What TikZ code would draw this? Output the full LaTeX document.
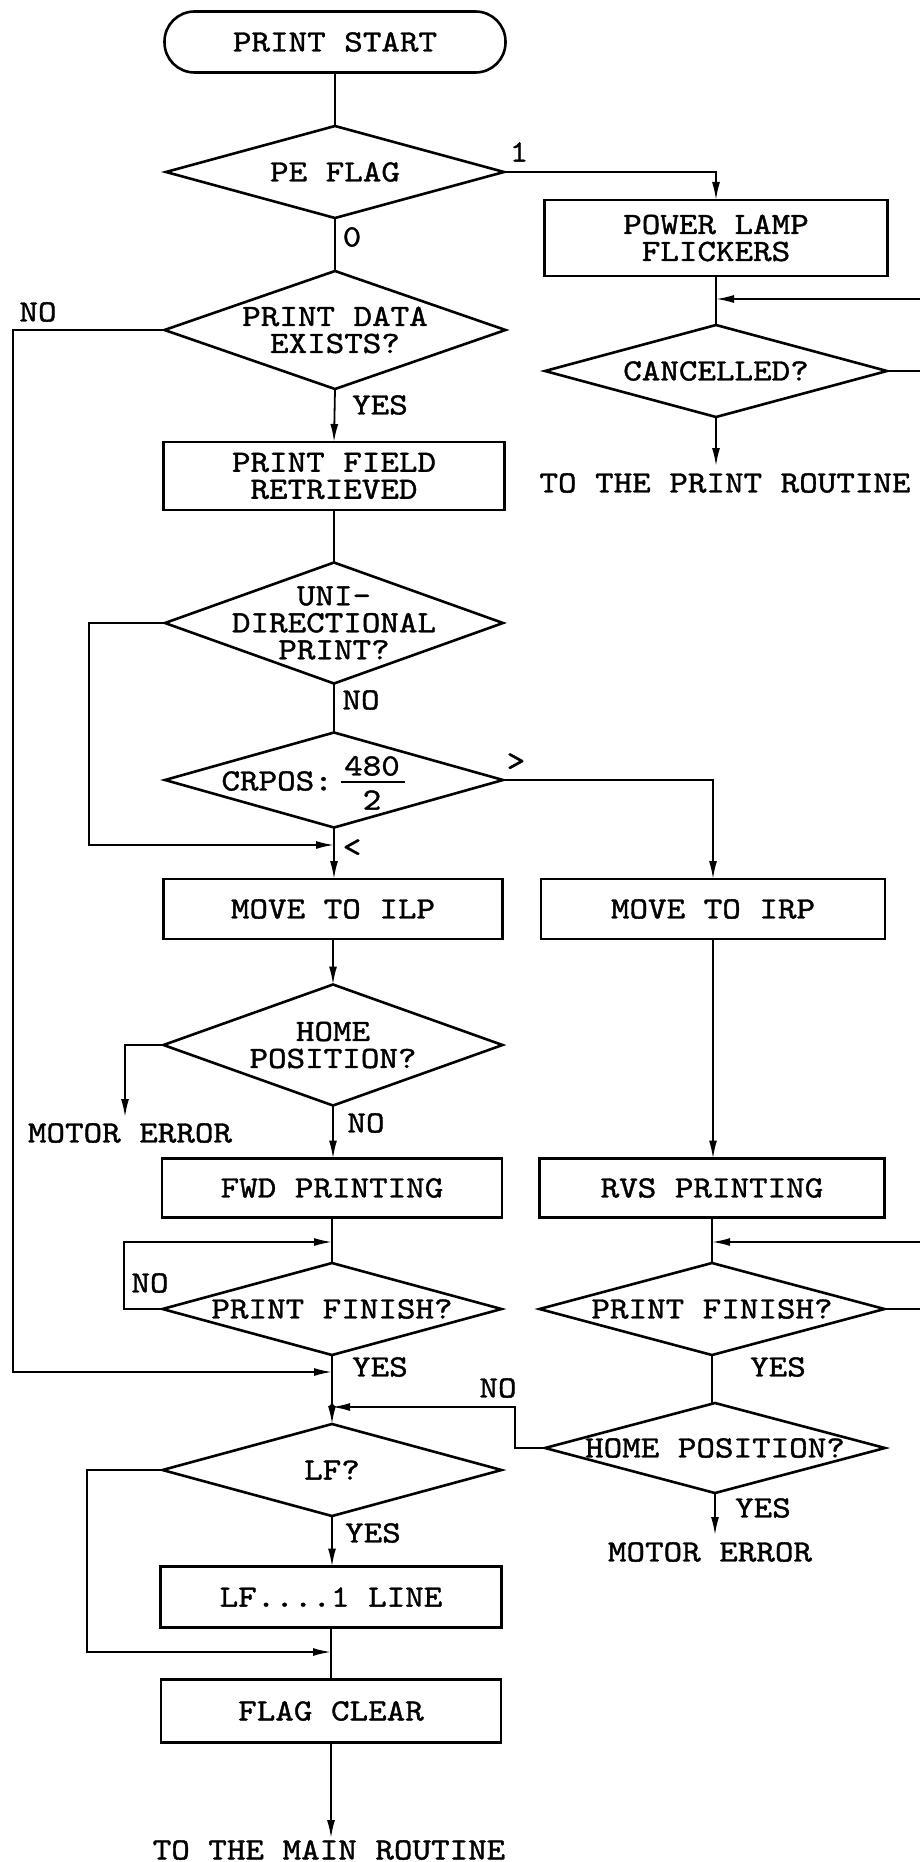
\documentclass[tikz,border=0pt]{standalone}
\usepackage{fontspec}
\setmonofont{lmmono10-regular.otf}[FakeStretch=1.14,FakeBold=1.2]
\usetikzlibrary{shapes.geometric,arrows.meta}
\begin{document}
\begin{tikzpicture}[x=1pt,y=-1pt,
  every node/.style={font=\ttfamily\fontsize{31}{27}\selectfont},
  box/.style={draw,line width=2.6pt,inner sep=0pt,outer sep=0pt},
  dia/.style={draw,diamond,line width=2.6pt,inner sep=0pt,outer sep=0pt},
  txt/.style={align=center,inner sep=0pt},
  lbl/.style={inner sep=0pt},
  ln/.style={line width=1.8pt},
  arr/.style={ln,-{Latex[length=18pt,width=8pt]}}]
\clip (0,0) rectangle (920,1862);
% ---------- nodes ----------
\node[box,rounded corners=30pt,minimum width=341pt,minimum height=61pt] (start) at (335,42) {};
\node[txt] (startT) at (start) {PRINT START};
\node[dia,minimum width=338pt,minimum height=92pt] (pe) at (335,172) {};
\node[txt] (peT) at (pe) {PE FLAG};
\node[box,minimum width=343pt,minimum height=76pt] (power) at (716,238) {};
\node[txt] (powerT) at (power) {POWER LAMP\\FLICKERS};
\node[dia,minimum width=342pt,minimum height=92pt] (cancel) at (716,371) {};
\node[txt] (cancelT) at (cancel) {CANCELLED?};
\node[dia,minimum width=341pt,minimum height=118pt] (data) at (335,330) {};
\node[txt] (dataT) at (data) {PRINT DATA\\EXISTS?};
\node[box,minimum width=341pt,minimum height=68pt] (field) at (334,476) {};
\node[txt] (fieldT) at (field) {PRINT FIELD\\RETRIEVED};
\node[dia,minimum width=338pt,minimum height=121pt] (uni) at (334,623) {};
\node[txt] (uniT) at (uni) {UNI-\\DIRECTIONAL\\PRINT?};
\node[dia,minimum width=338pt,minimum height=95pt] (crpos) at (334,780) {};
\node[txt,anchor=east] (crposT) at (333,781) {CRPOS:};
\node[lbl] (crN) at (372,766) {480};
\node[lbl] (crD) at (372,800) {2};
\draw[line width=2pt] (341,782) -- (405,782);
\node[box,minimum width=339pt,minimum height=60pt] (ilp) at (333,909) {};
\node[txt] (ilpT) at (ilp) {MOVE TO ILP};
\node[box,minimum width=344pt,minimum height=60pt] (irp) at (713,909) {};
\node[txt] (irpT) at (irp) {MOVE TO IRP};
\node[dia,minimum width=339pt,minimum height=121pt] (home1) at (333,1045) {};
\node[txt] (home1T) at (home1) {HOME\\POSITION?};
\node[box,minimum width=340pt,minimum height=59pt] (fwd) at (332,1188) {};
\node[txt] (fwdT) at (fwd) {FWD PRINTING};
\node[box,minimum width=345pt,minimum height=59pt] (rvs) at (712,1188) {};
\node[txt] (rvsT) at (rvs) {RVS PRINTING};
\node[dia,minimum width=339pt,minimum height=92pt] (fin1) at (332,1309) {};
\node[txt] (fin1T) at (fin1) {PRINT FINISH?};
\node[dia,minimum width=345pt,minimum height=92pt] (fin2) at (712,1309) {};
\node[txt] (fin2T) at (fin2) {PRINT FINISH?};
\node[dia,minimum width=340pt,minimum height=90pt] (home2) at (715,1448) {};
\node[txt] (home2T) at (home2) {HOME POSITION?};
\node[dia,minimum width=339pt,minimum height=92pt] (lf) at (332,1470) {};
\node[txt] (lfT) at (lf) {LF?};
\node[box,minimum width=341pt,minimum height=61pt] (lfbox) at (331,1597) {};
\node[txt] (lfboxT) at (lfbox) {LF....1 LINE};
\node[box,minimum width=340pt,minimum height=63pt] (flag) at (331,1711) {};
\node[txt] (flagT) at (flag) {FLAG CLEAR};
% ---------- labels ----------
\node[lbl] (l1) at (519,152) {1};
\node[lbl] (l0) at (352,237) {0};
\node[lbl] (lno1) at (38,312) {NO};
\node[lbl] (lyes1) at (380,405) {YES};
\node[lbl] (toprint) at (725,483) {TO THE PRINT ROUTINE};
\node[lbl] (lno2) at (361,700) {NO};
\node[lbl] (lgt) at (516,762) {>};
\node[lbl] (llt) at (352,848) {<};
\node[lbl] (merr1) at (130,1133) {MOTOR ERROR};
\node[lbl] (lno3) at (366,1123) {NO};
\node[lbl] (lno4) at (150,1283) {NO};
\node[lbl] (lyes2) at (380,1367) {YES};
\node[lbl] (lyes3) at (778,1367) {YES};
\node[lbl] (lno5) at (498,1388) {NO};
\node[lbl] (lyes4) at (763,1508) {YES};
\node[lbl] (merr2) at (710,1552) {MOTOR ERROR};
\node[lbl] (lyes5) at (373,1533) {YES};
\node[lbl] (tomain) at (329,1850) {TO THE MAIN ROUTINE};
% ---------- coordinates ----------
\coordinate (cR1) at (935,371);
\coordinate (cIn) at (716,299);
\coordinate (cOut) at (716,466);
\coordinate (dL) at (13,330);
\coordinate (dB) at (13,1372);
\coordinate (j1) at (332,1372);
\coordinate (uL) at (89,623);
\coordinate (j2) at (334,845);
\coordinate (hL) at (125,1045);
\coordinate (hE) at (125,1117);
\coordinate (fL) at (124,1309);
\coordinate (j3) at (332,1242);
\coordinate (fR) at (935,1309);
\coordinate (j4) at (712,1242);
\coordinate (h2a) at (515,1448);
\coordinate (h2b) at (515,1407);
\coordinate (j5) at (332,1407);
\coordinate (h2E) at (715,1535);
\coordinate (lL) at (87,1470);
\coordinate (j6) at (331,1652);
\coordinate (fEnd) at (331,1838);
% ---------- connectors ----------
\draw[ln] (start.south) -- (pe.north);
\draw[ln] (pe.south) -- (data.north);
\draw[arr] (pe.east) -| (power.north);
\draw[ln] (power.south) -- (cancel.north);
\draw[arr] (cancel.east) -- (cR1) |- (cIn);
\draw[arr] (cancel.south) -- (cOut);
\draw[arr] (data.south) -- (field.north);
\draw[arr] (data.west) -- (dL) -- (dB) -- (j1);
\draw[ln] (field.south) -- (uni.north);
\draw[ln] (uni.south) -- (crpos.north);
\draw[arr] (uni.west) -- (uL) |- (j2);
\draw[arr] (crpos.south) -- (crpos.south |- ilp.north);
\draw[arr] (crpos.east) -| (irp.north);
\draw[arr] (ilp.south) -- (ilp.south |- home1.north);
\draw[arr] (home1.west) -- (hL) -- (hE);
\draw[arr] (home1.south) -- (home1.south |- fwd.north);
\draw[arr] (irp.south) -- (irp.south |- rvs.north);
\draw[ln] (fwd.south) -- (fin1.north);
\draw[arr] (fin1.west) -- (fL) |- (j3);
\draw[ln] (rvs.south) -- (fin2.north);
\draw[arr] (fin2.east) -- (fR) |- (j4);
\draw[arr] (fin1.south) -- (lf.north);
\draw[ln] (fin2.south) -- (fin2.south |- home2.north);
\draw[arr] (home2.west) -- (h2a) -- (h2b) -- (j5);
\fill (j5) circle (3pt);
\draw[arr] (home2.south) -- (h2E);
\draw[arr] (lf.south) -- (lf.south |- lfbox.north);
\draw[arr] (lf.west) -- (lL) |- (j6);
\draw[ln] (lfbox.south) -- (flag.north);
\draw[arr] (flag.south) -- (fEnd);
\end{tikzpicture}
\end{document}
